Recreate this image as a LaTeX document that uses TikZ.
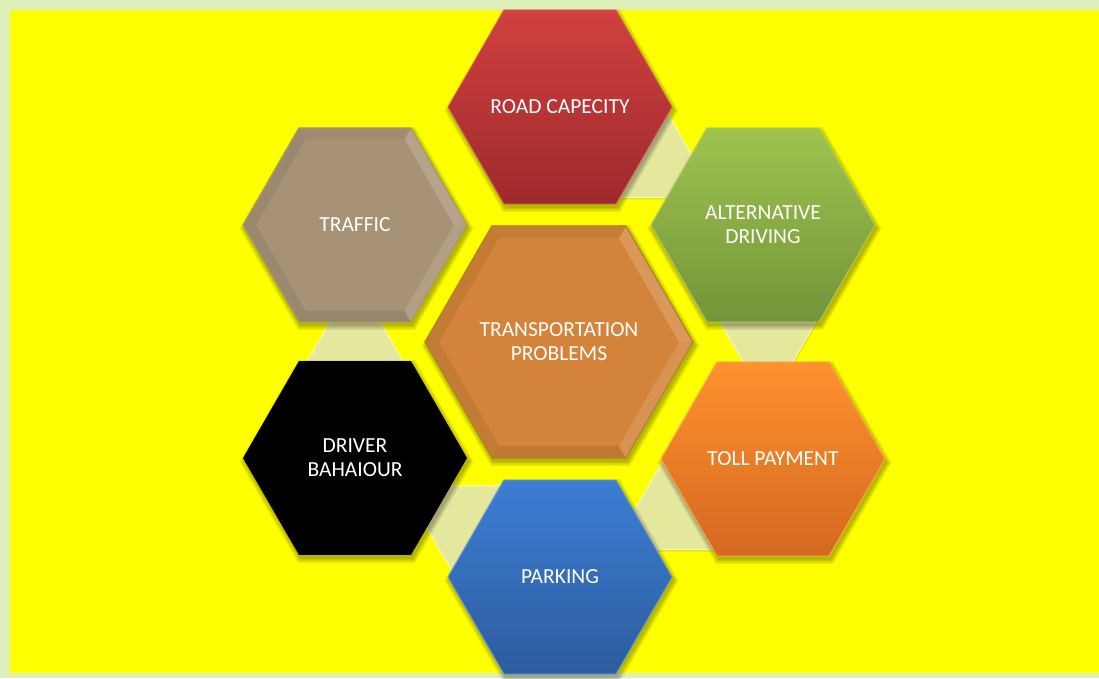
\documentclass[tikz,border=0pt]{standalone}
\usepackage{fontspec}
\setmainfont{Carlito}
\usetikzlibrary{calc,shapes.geometric}
\pgfdeclarelayer{back}
\pgfsetlayers{back,main}

\definecolor{frameGreen}{RGB}{221,240,186}
\definecolor{canvasYellow}{RGB}{255,255,0}
\definecolor{linkFill}{RGB}{228,232,156}
\definecolor{linkEdge}{RGB}{242,244,190}
\definecolor{roadTop}{RGB}{208,64,64}
\definecolor{roadBot}{RGB}{158,42,44}
\definecolor{altTop}{RGB}{158,196,78}
\definecolor{altBot}{RGB}{115,148,57}
\definecolor{tollTop}{RGB}{255,146,46}
\definecolor{tollBot}{RGB}{212,104,32}
\definecolor{parkTop}{RGB}{60,126,212}
\definecolor{parkBot}{RGB}{45,92,158}
\definecolor{hubFill}{RGB}{211,132,58}
\definecolor{hubEdge}{RGB}{176,130,50}
\definecolor{trafFill}{RGB}{168,146,118}
\definecolor{trafEdge}{RGB}{165,156,96}

\tikzset{
  hexlabel/.style={text=white, font=\fontsize{21.5}{24}\selectfont, align=center,
    shape=regular polygon, regular polygon sides=6, inner sep=0pt, minimum size=224pt},
  hublabel/.style={hexlabel, minimum size=268pt},
  linkstyle/.style={fill=linkFill, draw=linkEdge, line width=1.2pt, line join=round},
}

% flat-topped hexagon: options, centre, circumradius
\newcommand\hexagon[3]{%
  \begin{scope}[shift={(#2)}]
    \path[#1] (0:#3) -- (60:#3) -- (120:#3) -- (180:#3) -- (240:#3) -- (300:#3) -- cycle;
  \end{scope}}

% soft shadow under a hexagon: centre, circumradius
\newcommand\hexshadow[2]{%
  \begin{scope}[shift={($(#1)+(1.5,-3.5)$)}]
    \foreach \g in {5,3.5,2,0.5}{
      \fill[black, opacity=.08] (0:{#2+\g}) -- (60:{#2+\g}) -- (120:{#2+\g})
        -- (180:{#2+\g}) -- (240:{#2+\g}) -- (300:{#2+\g}) -- cycle;
    }
  \end{scope}}

% bevelled hexagon: centre, outer radius, inner radius, face colour, edge colour
\newcommand\bevelhex[5]{%
  \begin{scope}[shift={(#1)}]
    \fill[#4] (0:#2) -- (60:#2) -- (120:#2) -- (180:#2) -- (240:#2) -- (300:#2) -- cycle;
    \foreach \a/\tone in {0/#4!84!white, 60/#4!95!black, 120/#4!93!black,
                          180/#4!93!black, 240/#4!91!black, 300/#4!88!white}{
      \pgfmathsetmacro\b{\a+60}
      \fill[\tone] (\a:#2) -- (\b:#2) -- (\b:#3) -- (\a:#3) -- cycle;
    }
    \draw[#5, line width=1.2pt, line join=round]
      (0:#2) -- (60:#2) -- (120:#2) -- (180:#2) -- (240:#2) -- (300:#2) -- cycle;
  \end{scope}}

% triangular link between two neighbouring hexagons: node, node, apex angle
\newcommand\hexlink[3]{%
  \begin{scope}[shift={($(#1)!0.5!(#2)$)}]
    \pgfmathsetmacro\la{#3+120}
    \pgfmathsetmacro\lb{#3+240}
    \fill[black, opacity=.10] ($(#3:63)+(1,-2)$) -- ($(\la:63)+(1,-2)$) -- ($(\lb:63)+(1,-2)$) -- cycle;
    \path[linkstyle] (#3:63) -- (\la:63) -- (\lb:63) -- cycle;
  \end{scope}}

\begin{document}
\begin{tikzpicture}[x=1pt, y=1pt]
  \useasboundingbox (0,0) rectangle (1099,678);

  \begin{pgfonlayer}{back}
    \fill[frameGreen] (0,0) rectangle (1099,678);
    \fill[canvasYellow] (10,5) rectangle (1099,668);
  \end{pgfonlayer}

  % hexagon centres
  \coordinate (pRoad)    at (560,571);
  \coordinate (pAlt)     at (763,453);
  \coordinate (pTraffic) at (355,453);
  \coordinate (pHub)     at (559,336);
  \coordinate (pDriver)  at (355,220);
  \coordinate (pToll)    at (773,219);
  \coordinate (pPark)    at (560,101);

  % outer ring
  \hexshadow{pRoad}{112}
  \hexagon{top color=roadTop, bottom color=roadBot, draw=roadTop!85!white, line width=.8pt}{pRoad}{112}
  \hexshadow{pAlt}{112}
  \hexagon{top color=altTop, bottom color=altBot, draw=altTop!85!white, line width=.8pt}{pAlt}{112}
  \hexshadow{pTraffic}{112}
  \bevelhex{pTraffic}{112}{99}{trafFill}{trafEdge}
  \hexshadow{pDriver}{112}
  \hexagon{fill=black}{pDriver}{112}
  \hexshadow{pToll}{112}
  \hexagon{top color=tollTop, bottom color=tollBot, draw=tollTop!80!white, line width=.8pt}{pToll}{112}
  \hexshadow{pPark}{112}
  \hexagon{top color=parkTop, bottom color=parkBot, draw=parkTop!80!white, line width=.8pt}{pPark}{112}

  % centre
  \hexshadow{pHub}{134}
  \bevelhex{pHub}{134}{120}{hubFill}{hubEdge}

  % labels
  \node[hexlabel] (road)    at (pRoad)    {ROAD CAPECITY};
  \node[hexlabel] (alt)     at (pAlt)     {ALTERNATIVE\\DRIVING};
  \node[hexlabel] (traffic) at (pTraffic) {TRAFFIC};
  \node[hexlabel] (driver)  at (pDriver)  {DRIVER\\BAHAIOUR};
  \node[hexlabel] (toll)    at (pToll)    {TOLL PAYMENT};
  \node[hexlabel] (parking) at (pPark)    {PARKING};
  \node[hublabel] (hub)     at (pHub)     {TRANSPORTATION\\PROBLEMS};

  % links behind the ring
  \begin{pgfonlayer}{back}
    \hexlink{road}{alt}{90}
    \hexlink{alt}{toll}{270}
    \hexlink{toll}{parking}{90}
    \hexlink{parking}{driver}{270}
    \hexlink{driver}{traffic}{90}
  \end{pgfonlayer}
\end{tikzpicture}
\end{document}
